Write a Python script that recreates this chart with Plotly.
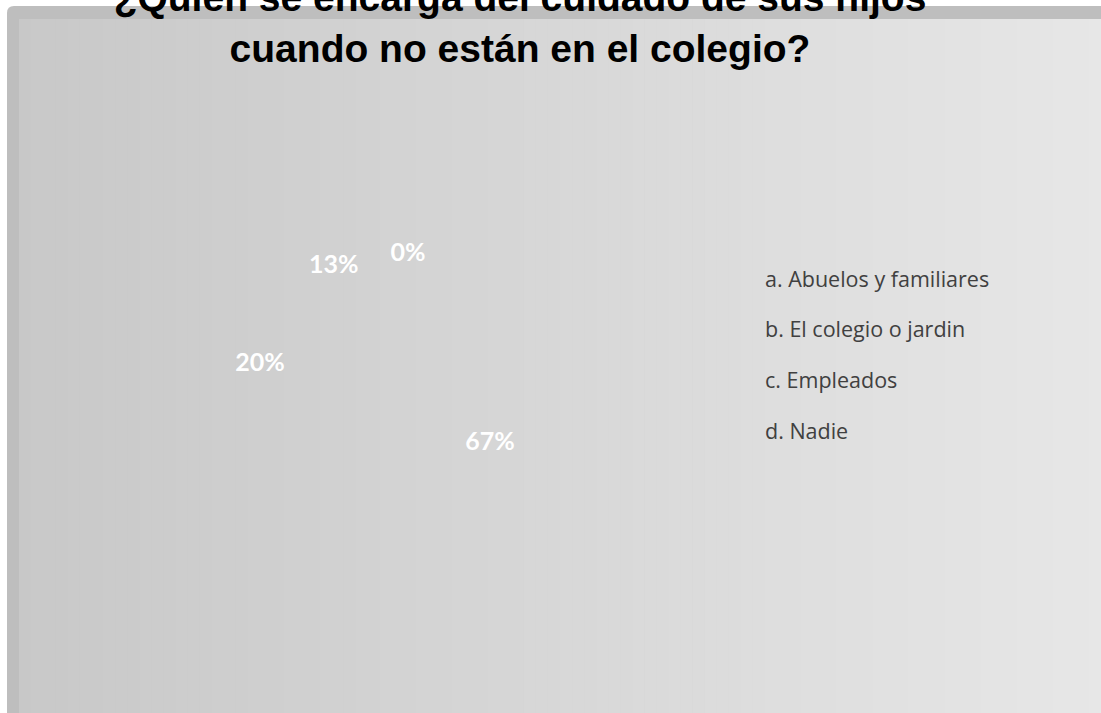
import plotly.graph_objects as go

# ---- data ----
categories = ["a. Abuelos y familiares", "b. El colegio o jardin", "c. Empleados", "d. Nadie"]
values = [67, 20, 13, 0]
title_lines = ["¿Quién se encarga del cuidado de sus hijos", "cuando no están en el colegio?"]

W, H = 1101, 713

def px_x(v):
    return v / W

def px_y(v):
    return 1 - v / H

fig = go.Figure()

# legend labels rendered at a smaller size than the legend row font (for row spacing)
legend_labels = [f"<span style='font-size:21.5px'>{c}</span>" for c in categories]

cx, cy, half = 383, 377, 180
fig.add_trace(go.Pie(
    labels=legend_labels,
    values=values,
    sort=False,
    direction="clockwise",
    rotation=0,
    textinfo="percent",
    textposition=["inside", "inside", "inside", "outside"],
    insidetextorientation="horizontal",
    pull=[0.62, 0.487, 0.40, 0],
    marker=dict(colors=["rgba(0,0,0,0)"] * 4, line=dict(width=0)),
    textfont=dict(family="Lato", size=25, color="white", weight="bold"),
    domain=dict(x=[px_x(cx - half), px_x(cx + half)], y=[px_y(cy + half), px_y(cy - half)]),
    hoverinfo="label+percent",
))

# ---- background panel ----
shapes = []
x0, y0, r = 7, 6, 7
path = (f"M {px_x(x0)},{px_y(H+5)} L {px_x(x0)},{px_y(y0 + r)} "
        f"Q {px_x(x0)},{px_y(y0)} {px_x(x0 + r)},{px_y(y0)} "
        f"L {px_x(W+5)},{px_y(y0)} L {px_x(W+5)},{px_y(H+5)} Z")
shapes.append(dict(type="path", xref="paper", yref="paper", path=path,
                   fillcolor="#bebebe", line=dict(width=0), layer="below"))
ix0, iy0 = 19, 19
n = 90
c0, c1 = 200, 231
for i in range(n):
    xa = ix0 + (W - ix0) * i / n
    xb = ix0 + (W - ix0) * (i + 1) / n + 0.6
    g = round(c0 + (c1 - c0) * (i + 0.5) / n)
    shapes.append(dict(type="rect", xref="paper", yref="paper",
                       x0=px_x(xa), x1=px_x(xb), y0=px_y(H + 5), y1=px_y(iy0),
                       fillcolor=f"rgb({g},{g},{g})", line=dict(width=0), layer="below"))

fig.update_layout(
    width=W, height=H,
    margin=dict(l=0, r=0, t=0, b=0),
    paper_bgcolor="white",
    plot_bgcolor="white",
    shapes=shapes,
    title=dict(
        text="<br>".join(title_lines),
        font=dict(family="Liberation Sans, Arial", size=39, color="black", weight="bold"),
        x=520 / W, xanchor="center", xref="container",
        y=px_y(11), yanchor="bottom", yref="container",
    ),
    showlegend=True,
    legend=dict(
        x=px_x(725), xanchor="left",
        y=px_y(242), yanchor="top",
        font=dict(family="Open Sans", size=36.7, color="#404040"),
        bgcolor="rgba(0,0,0,0)",
        borderwidth=0,
    ),
)

fig.write_html("out.html", config={"displayModeBar": False},
               post_script="document.body.style.margin='0px';")
